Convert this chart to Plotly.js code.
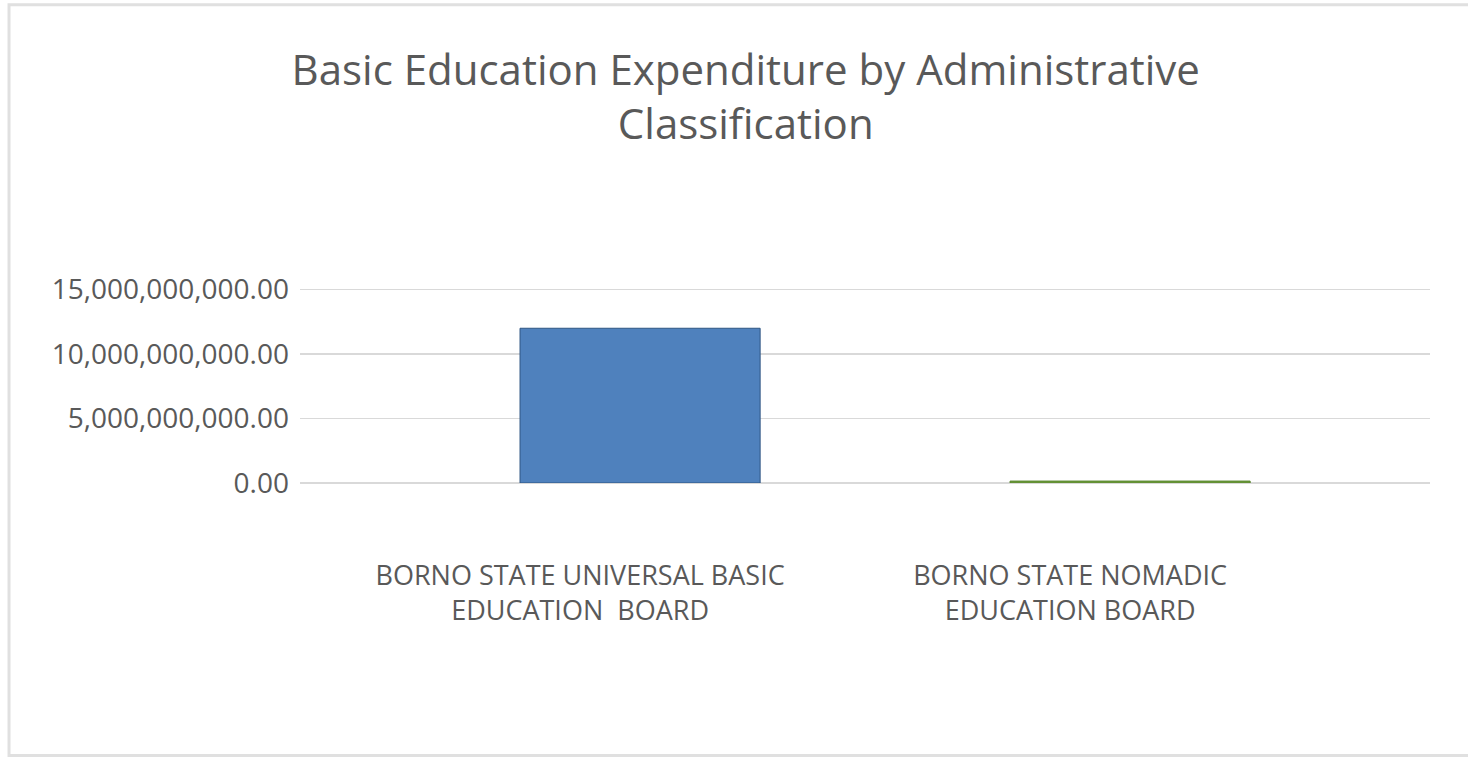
<!DOCTYPE html>
<html>
<head>
<meta charset="utf-8">
<script src="https://cdn.plot.ly/plotly-3.0.1.min.js"></script>
<style>html,body{margin:0;padding:0;background:#fff;}#chart{width:1468px;height:757px;}</style>
</head>
<body>
<div id="chart"></div>
<script>
const categories = [
  "BORNO STATE UNIVERSAL BASIC<br>EDUCATION  BOARD",
  "BORNO STATE NOMADIC<br>EDUCATION BOARD"
];
const expenditure = [12000000000, 150000000];
const barColors = ["#4F81BD", "#6E9E3A"];
const barEdgeColors = ["#2F5583", "#5A8530"];
const yTicks = [0, 5000000000, 10000000000, 15000000000];

const trace = {
  type: "bar",
  x: [0, 1],
  y: expenditure,
  width: 0.49,
  marker: { color: barColors, line: { color: barEdgeColors, width: 1 } },
  hovertemplate: "%{y:,.2f}<extra></extra>"
};

const layout = {
  width: 1468,
  height: 757,
  paper_bgcolor: "#ffffff",
  plot_bgcolor: "#ffffff",
  margin: { l: 300, r: 38, t: 287, b: 274 },
  showlegend: false,
  font: { family: "Open Sans, Liberation Sans, sans-serif", color: "#595959" },
  title: {
    text: "Basic Education Expenditure by Administrative<br>Classification",
    font: { size: 42, color: "#595959", family: "Open Sans, Liberation Sans, sans-serif" },
    xref: "container", x: 0.508, xanchor: "center",
    yref: "container", y: 0.888, yanchor: "middle"
  },
  xaxis: {
    tickmode: "array",
    tickvals: [0, 1],
    ticktext: categories,
    range: [-0.694, 1.612],
    showgrid: false,
    zeroline: false,
    showline: false,
    ticks: "",
    ticklabelstandoff: 74,
    ticklabelshift: -60,
    tickfont: { size: 27, color: "#595959" }
  },
  yaxis: {
    range: [0, 15200000000],
    tickmode: "array",
    tickvals: yTicks,
    tickformat: ",.2f",
    showgrid: true,
    gridcolor: "#D9D9D9",
    gridwidth: 1.5,
    zeroline: true,
    zerolinecolor: "#D9D9D9",
    zerolinewidth: 1.5,
    showline: false,
    ticks: "",
    ticklabelstandoff: 10,
    tickfont: { size: 28, color: "#595959" }
  },
  shapes: [
    { type: "rect", xref: "paper", yref: "paper",
      x0: -0.2575, x1: 1.06, y0: -1.39, y1: 2.44,
      line: { color: "#E0E0E0", width: 3 }, fillcolor: "rgba(0,0,0,0)", layer: "below" }
  ]
};

Plotly.newPlot("chart", [trace], layout, { displayModeBar: false, staticPlot: true });
</script>
</body>
</html>
